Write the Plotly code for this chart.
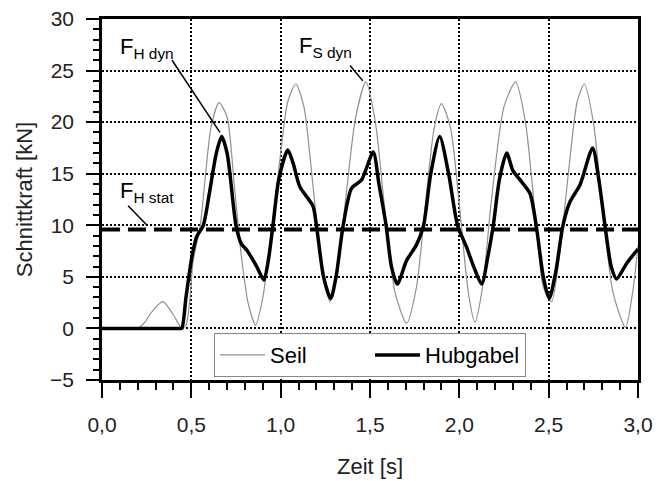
import plotly.graph_objects as go

# ---- data ----
seil_t = [0.00, 0.10, 0.18, 0.21, 0.24, 0.27, 0.34, 0.40, 0.43, 0.45, 0.47, 0.49, 0.51, 0.55,
          0.58, 0.61, 0.655, 0.70, 0.74, 0.78, 0.82, 0.86, 0.90, 0.95, 1.00, 1.04, 1.085, 1.13,
          1.18, 1.23, 1.276, 1.32, 1.37, 1.42, 1.477, 1.53, 1.58, 1.64, 1.705, 1.76, 1.81, 1.86,
          1.90, 1.95, 2.00, 2.05, 2.087, 2.13, 2.18, 2.25, 2.315, 2.37, 2.43, 2.47, 2.516, 2.56,
          2.61, 2.66, 2.70, 2.75, 2.80, 2.86, 2.93, 2.97, 3.00]
seil_f = [0.0, 0.0, 0.0, 0.1, 0.6, 1.4, 2.6, 1.3, 0.4, 0.0, 0.3, 2.5, 6.5, 10.0,
          15.0, 19.5, 21.9, 20.5, 14.0, 7.0, 2.3, 0.3, 3.0, 9.5, 17.0, 22.0, 23.7, 21.5,
          14.0, 6.0, 2.6, 6.0, 13.5, 20.5, 23.9, 20.0, 12.0, 3.5, 0.5, 4.0, 12.0, 19.5,
          21.8, 19.5, 12.0, 3.5, 0.6, 4.0, 12.5, 21.5, 23.9, 20.0, 10.0, 4.0, 2.6, 7.0,
          15.0, 22.0, 23.7, 20.0, 12.0, 3.5, 0.1, 3.5, 8.0]

hub_t = [0.00, 0.10, 0.20, 0.30, 0.40, 0.43, 0.446, 0.47, 0.49, 0.507, 0.53, 0.567, 0.60,
         0.64, 0.67, 0.70, 0.716, 0.75, 0.78, 0.81, 0.866, 0.906, 0.93, 0.957, 0.99, 1.04,
         1.07, 1.108, 1.18, 1.20, 1.24, 1.28, 1.31, 1.35, 1.397, 1.453, 1.518, 1.55, 1.59,
         1.62, 1.653, 1.705, 1.76, 1.80, 1.84, 1.89, 1.94, 1.99, 2.04, 2.08, 2.125, 2.16,
         2.19, 2.225, 2.265, 2.30, 2.34, 2.395, 2.43, 2.47, 2.503, 2.54, 2.58, 2.62, 2.675,
         2.746, 2.78, 2.815, 2.85, 2.88, 2.936, 3.00]
hub_f = [0.0, 0.0, 0.0, 0.0, 0.0, 0.0, 0.0, 3.0, 5.5, 7.3, 8.9, 10.0, 13.0,
         17.0, 18.6, 17.0, 15.0, 10.0, 8.2, 7.6, 6.0, 4.7, 6.5, 10.0, 14.5, 17.3,
         16.0, 13.7, 11.9, 10.0, 5.0, 2.9, 5.0, 10.0, 13.6, 14.4, 17.1, 14.0, 10.0,
         6.0, 4.3, 6.6, 8.1, 10.0, 15.0, 18.6, 15.0, 10.0, 7.9, 6.0, 4.3, 7.0,
         10.0, 14.5, 17.0, 15.3, 14.4, 13.1, 10.0, 5.0, 2.9, 5.5, 10.0, 12.3, 13.9,
         17.5, 14.5, 10.0, 6.0, 4.8, 6.3, 7.7]

fh_stat_t = [0.0, 3.0]
fh_stat_f = [9.6, 9.6]

series_names = ["Seil", "Hubgabel"]

# annotation labels: (text, text x, text y, leader x0, y0, x1, y1)
labels = [
    ("F<sub>H dyn</sub>", 0.09, 27.2, 0.392, 26.0, 0.660, 19.0),
    ("F<sub>S dyn</sub>", 1.09, 27.3, 1.388, 25.5, 1.460, 24.0),
    ("F<sub>H stat</sub>", 0.09, 13.2, 0.146, 11.9, 0.252, 10.0),
]

FONT = "Liberation Sans, Arial, sans-serif"

fig = go.Figure()
fig.add_trace(go.Scatter(x=seil_t, y=seil_f, mode="lines", name=series_names[0],
                         line=dict(color="#909090", width=1.2, shape="spline", smoothing=0.7)))
fig.add_trace(go.Scatter(x=fh_stat_t, y=fh_stat_f, mode="lines", showlegend=False,
                         line=dict(color="black", width=4, dash="18px,8px")))
fig.add_trace(go.Scatter(x=hub_t, y=hub_f, mode="lines", name=series_names[1],
                         line=dict(color="black", width=3.5, shape="spline", smoothing=0.7)))

for text, tx, ty, x0, y0, x1, y1 in labels:
    fig.add_annotation(x=tx, y=ty, xref="x", yref="y", text=text, showarrow=False,
                       xanchor="left", yanchor="middle",
                       font=dict(family=FONT, size=22, color="black"))
    fig.add_shape(type="line", xref="x", yref="y", x0=x0, y0=y0, x1=x1, y1=y1,
                  line=dict(color="black", width=1.5))

axis_common = dict(
    showline=True, linecolor="black", linewidth=2.5, mirror=True,
    showgrid=True, gridcolor="black", gridwidth=1.5, griddash="2px,2px",
    zeroline=False, ticks="outside", tickcolor="black", tickwidth=2,
    tickfont=dict(family=FONT, size=21, color="#222"),
    tickmode="linear", automargin=False,
)

fig.update_xaxes(range=[0, 3], tick0=0, dtick=0.5, tickformat=".1f", ticklen=15,
                 ticklabelstandoff=9,
                 minor=dict(ticks="outside", tick0=0, dtick=0.1, ticklen=7, tickwidth=2,
                            tickcolor="black", showgrid=False),
                 title=dict(text="Zeit [s]", font=dict(family=FONT, size=22, color="#222"),
                            standoff=24),
                 **axis_common)
fig.update_yaxes(range=[-5, 30], tick0=0, dtick=5, ticklen=13,
                 ticklabelstandoff=8,
                 minor=dict(ticks="outside", tick0=0, dtick=1, ticklen=6, tickwidth=2,
                            tickcolor="black", showgrid=False),
                 title=dict(text="Schnittkraft [kN]", font=dict(family=FONT, size=22, color="#222"),
                            standoff=12),
                 **axis_common)

fig.update_layout(
    width=659, height=481,
    margin=dict(l=102, r=21, t=19, b=101),
    plot_bgcolor="white", paper_bgcolor="white",
    separators=",.",
    font=dict(family=FONT, size=21, color="#222"),
    legend=dict(orientation="h", x=0.5, xanchor="center", y=0.069, yanchor="middle",
                bgcolor="white", bordercolor="#888", borderwidth=1,
                font=dict(family=FONT, size=22, color="black"),
                itemwidth=45, entrywidth=95, tracegroupgap=0),
)

fig.write_html("out.html")
